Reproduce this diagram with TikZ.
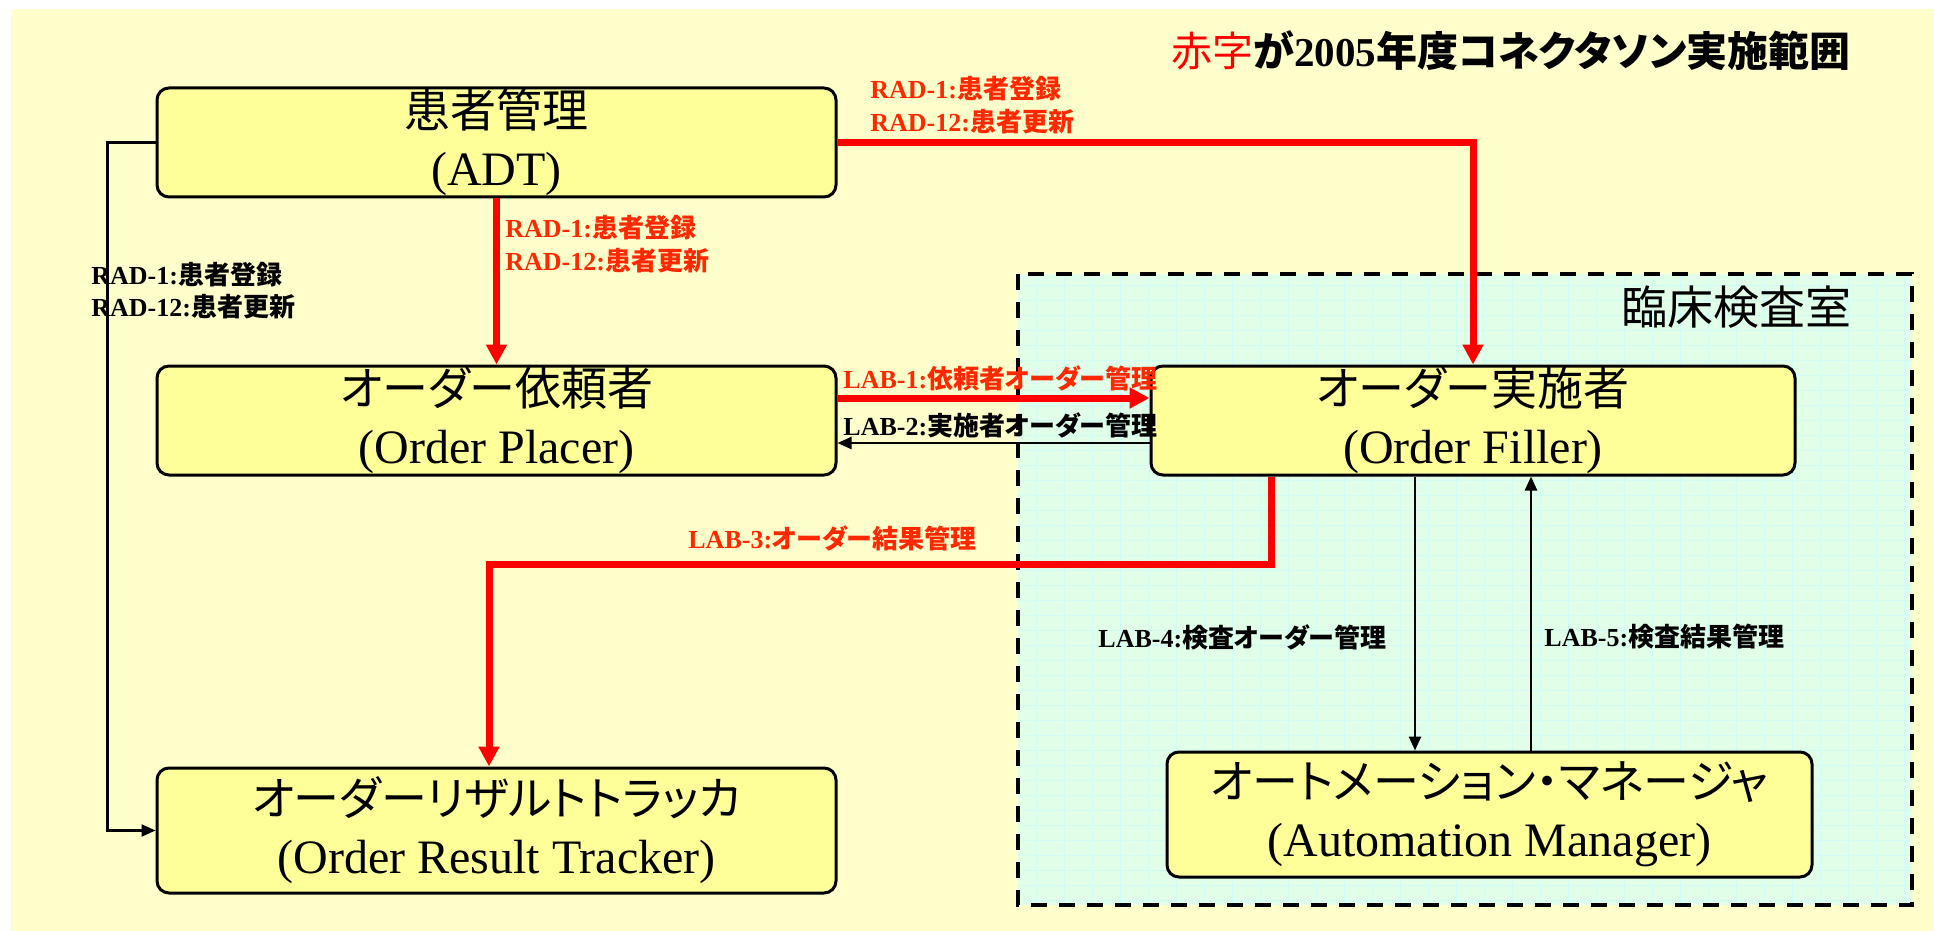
\documentclass[tikz,border=0pt]{standalone}
\usepackage{fontspec}
\setmainfont{Liberation Serif}
\newfontfamily\jp{Noto Sans CJK JP}[RawFeature=+palt]
\usetikzlibrary{arrows.meta}
\definecolor{bgyellow}{RGB}{255,255,204}
\definecolor{boxyellow}{RGB}{255,255,153}
\definecolor{labcyan}{RGB}{225,255,232}
\definecolor{gridcyan}{RGB}{208,252,246}
\definecolor{labelred}{RGB}{255,40,0}
\newcommand{\ja}[1]{{\jp #1}}
\newcommand{\jbig}[1]{{\jp\fontsize{23}{29}\selectfont #1}}
\tikzstyle{actor}=[draw, line width=1.5pt, rounded corners=6pt, fill=boxyellow, minimum width=339.5pt, minimum height=54.5pt, align=center, inner sep=0pt, font=\fontsize{24}{29}\selectfont]
\tikzstyle{redflow}=[red, line width=3.5pt, -{Triangle[length=10pt,width=10pt]}]
\tikzstyle{blackflow}=[black, line width=1.2pt, -{Triangle[length=7pt,width=6pt]}]
\tikzstyle{redtext}=[labelred, align=left, inner sep=0pt, font=\fontsize{13}{16.5}\selectfont\bfseries]
\tikzstyle{blacktext}=[black, align=left, inner sep=0pt, font=\fontsize{13}{16}\selectfont\bfseries]

\begin{document}
\begin{tikzpicture}[x=0.5pt, y=-0.5pt]
% Canvas
	\useasboundingbox (0,0) rectangle (1934,931);
	\fill[white] (0,0) rectangle (1934,931);
	\fill[bgyellow] (11,9) rectangle (1934,931);
% Laboratory
	\fill[labcyan] (1018,274) rectangle (1912,905);
	\draw[gridcyan, line width=0.4pt, xstep=14pt, ystep=7.5pt] (1018,274) grid (1912,905);
	\draw[line width=2pt, dash pattern=on 8pt off 6pt] (1018,274) rectangle (1912,905);
	\node[anchor=east, inner sep=0pt, font=\fontsize{23}{28}\selectfont] (labroom) at (1852,307) {\ja{臨床検査室}};
% Title
	\node[anchor=west, inner sep=0pt, font=\fontsize{20.5}{25}\selectfont] (title) at (1171,51) {\ja{\color{red}赤字}\ja{\bfseries が}\textbf{2005}\ja{\bfseries 年度コネクタソン実施範囲}};
% Actors
	\node[actor] (adt) at (496.5,142.5) {\jbig{患者管理}\\(ADT)};
	\node[actor] (placer) at (496.5,420.5) {\jbig{オーダー依頼者}\\(Order Placer)};
	\node[actor, minimum height=62.5pt] (tracker) at (496.5,830.5) {\jbig{オーダーリザルトトラッカ}\\(Order Result Tracker)};
	\node[actor, minimum width=322pt] (filler) at (1473,420.5) {\jbig{オーダー実施者}\\(Order Filler)};
	\node[actor, minimum width=322.5pt, minimum height=62.5pt] (automan) at (1489.5,814.5) {\jbig{オートメーション・マネージャ}\\(Automation Manager)};
% Patient registration
	\draw[redflow] (adt.south) -- (placer.north);
	\draw[redflow] (adt.east) -| (filler.north);
	\draw[blackflow] (adt.west) -- ++(-48,0) |- (tracker.west);
% Orders and results
	\draw[redflow] ([yshift=11.25pt]placer.east) -- ([yshift=11.25pt]filler.west);
	\draw[blackflow] ([yshift=-11.25pt]filler.west) -- ([yshift=-11.25pt]placer.east);
	\draw[redflow] ([xshift=-101pt]filler.south) -- ++(0,88) -| ([xshift=-3.75pt]tracker.north);
	\draw[blackflow] ([xshift=-29pt]filler.south) -- ([xshift=-29pt]filler.south |- automan.north);
	\draw[blackflow] ([xshift=29pt]filler.south |- automan.north) -- ([xshift=29pt]filler.south);
% Transaction labels
	\node[redtext, anchor=west] (radtop) at (870,105) {RAD-1:\ja{患者登録}\\RAD-12:\ja{患者更新}};
	\node[redtext, anchor=west] (radmid) at (505,244.5) {RAD-1:\ja{患者登録}\\RAD-12:\ja{患者更新}};
	\node[blacktext, anchor=west] (radleft) at (91,290.5) {RAD-1:\ja{患者登録}\\RAD-12:\ja{患者更新}};
	\node[redtext, anchor=west] (labone) at (843,378) {LAB-1:\ja{依頼者オーダー管理}};
	\node[blacktext, anchor=west] (labtwo) at (843,425) {LAB-2:\ja{実施者オーダー管理}};
	\node[redtext, anchor=west] (labthree) at (688,538) {LAB-3:\ja{オーダー結果管理}};
	\node[blacktext, anchor=west] (labfour) at (1098,637) {LAB-4:\ja{検査オーダー管理}};
	\node[blacktext, anchor=west] (labfive) at (1544,637) {LAB-5:\ja{検査結果管理}};
\end{tikzpicture}
\end{document}
